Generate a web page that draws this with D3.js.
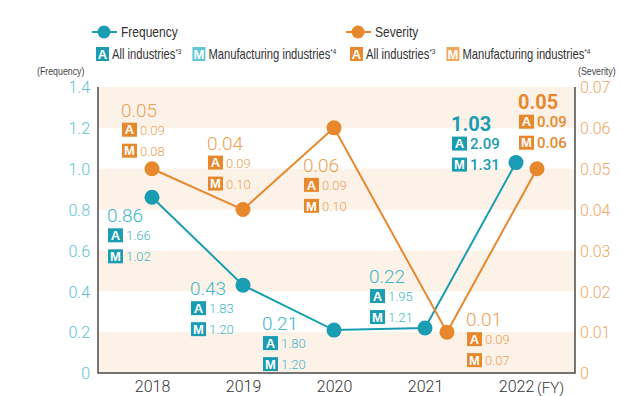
<!DOCTYPE html>
<html>
<head>
<meta charset="utf-8">
<script src="https://cdn.jsdelivr.net/npm/d3@7"></script>
<style>
  html, body { margin: 0; padding: 0; background: #fff; }
  svg { display: block; }
</style>
</head>
<body>
<svg id="chart" width="622" height="396"></svg>
<script>
// Fiscal years on the x axis
const years = ["2018", "2019", "2020", "2021", "2022"];

// Lost-time injury frequency rate (company) and industry comparisons
const frequency = [0.86, 0.43, 0.21, 0.22, 1.03];
const frequencyAll = [1.66, 1.83, 1.80, 1.95, 2.09];
const frequencyMfg = [1.02, 1.20, 1.20, 1.21, 1.31];

// Severity rate (company) and industry comparisons
const severity = [0.05, 0.04, 0.06, 0.01, 0.05];
const severityAll = [0.09, 0.09, 0.09, 0.09, 0.09];
const severityMfg = [0.08, 0.10, 0.10, 0.07, 0.06];

// Axis tick values
const frequencyTicks = [0, 0.2, 0.4, 0.6, 0.8, 1.0, 1.2, 1.4];
const severityTicks = [0, 0.01, 0.02, 0.03, 0.04, 0.05, 0.06, 0.07];

// ---- layout & style ----
const W = 622, H = 396;
const plot = { left: 98, right: 575, top: 87, bottom: 373 };
const TEAL = "#1a9db2", TEAL_LIGHT = "#42b6c9", TEAL_TICK = "#5ec3d3", TEAL_PALE = "#62c6d6";
const ORANGE = "#e8882d", ORANGE_LIGHT = "#eb9f56", ORANGE_TICK = "#eea864", ORANGE_PALE = "#f0a85e";
const BAND = "#fdf2e8";
const SANS = "'Liberation Sans', Arial, sans-serif";
const NUM = "Roboto, 'Liberation Sans', sans-serif";
const CONDENSE = 0.8; // horizontal squeeze for the condensed legend / title type

// severity markers of the last two years are nudged right so they don't sit on the frequency markers
const severityNudge = [0, 0, 0, 22, 21];
// value-label anchors relative to each marker
const freqLabelOffset = [[-44, 25], [-52, 10], [-71, 0], [-55, -45], [-64, -32]];
const sevLabelOffset = [[-30, -52], [-35, -60], [-30, 44], [20, -6], [-18, -60]];

const svg = d3.select("#chart");

// condensed text helper: draws text squeezed horizontally, returns the selection
function narrowText(parent, x0, y0, size, fill) {
  return parent.append("text")
    .attr("transform", `translate(${x0},${y0}) scale(${CONDENSE},1)`)
    .attr("font-family", SANS).attr("font-size", size).attr("fill", fill);
}

const x = d3.scalePoint().domain(years).range([plot.left + 54, plot.right - 59]);
const yF = d3.scaleLinear().domain([0, 1.4]).range([plot.bottom, plot.top]);
const yS = d3.scaleLinear().domain([0, 0.07]).range([plot.bottom, plot.top]);

// alternating background bands
const bands = frequencyTicks.slice(0, -1).filter((d, i) => i % 2 === 0);
svg.append("g").selectAll("rect").data(bands).join("rect")
  .attr("x", plot.left).attr("width", plot.right - plot.left)
  .attr("y", d => yF(d + 0.2)).attr("height", d => yF(d) - yF(d + 0.2))
  .attr("fill", BAND);

// left axis (frequency)
const gL = svg.append("g").attr("transform", `translate(${plot.left},0)`)
  .call(d3.axisLeft(yF).tickValues(frequencyTicks).tickSize(0).tickPadding(8)
    .tickFormat(d => d === 0 ? "0" : d3.format(".1f")(d)));
gL.select(".domain").remove();
gL.selectAll("text").attr("fill", TEAL_TICK).attr("font-family", NUM)
  .attr("font-weight", 300).attr("font-size", 16).attr("dy", "0.36em");

// right axis (severity)
const gR = svg.append("g").attr("transform", `translate(${plot.right},0)`)
  .call(d3.axisRight(yS).tickValues(severityTicks).tickSize(0).tickPadding(5)
    .tickFormat(d => d === 0 ? "0" : d3.format(".2f")(d)));
gR.select(".domain").remove();
gR.selectAll("text").attr("fill", ORANGE_TICK).attr("font-family", NUM)
  .attr("font-weight", 300).attr("font-size", 16).attr("dy", "0.36em");

// bottom axis (years)
const gB = svg.append("g").attr("transform", `translate(0,${plot.bottom})`)
  .call(d3.axisBottom(x).tickSize(0).tickPadding(7));
gB.select(".domain").remove();
gB.selectAll("text").attr("fill", "#333").attr("font-family", NUM)
  .attr("font-weight", 300).attr("font-size", 16).attr("dy", "0.78em");
svg.append("text")
  .attr("x", x(years[years.length - 1]) + 21).attr("y", plot.bottom + 20)
  .attr("fill", "#333").attr("font-family", NUM).attr("font-weight", 300)
  .attr("font-size", 15).text("(FY)");

// frame lines
svg.append("path")
  .attr("d", `M${plot.left},${plot.top}V${plot.bottom}H${plot.right}V${plot.top}`)
  .attr("stroke", "#4a4a4a").attr("stroke-width", 1.5).attr("fill", "none");

// axis titles
narrowText(svg, 37, 75, 11, "#444").text("(Frequency)");
narrowText(svg, 578, 75, 11, "#444").text("(Severity)");

// series
const sx = i => x(years[i]) + severityNudge[i];
const fx = i => x(years[i]);

svg.append("path").datum(frequency)
  .attr("fill", "none").attr("stroke", TEAL).attr("stroke-width", 2)
  .attr("d", d3.line().x((d, i) => fx(i)).y(d => yF(d)));
svg.append("path").datum(severity)
  .attr("fill", "none").attr("stroke", ORANGE).attr("stroke-width", 2)
  .attr("d", d3.line().x((d, i) => sx(i)).y(d => yS(d)));

svg.append("g").selectAll("circle").data(frequency).join("circle")
  .attr("cx", (d, i) => fx(i)).attr("cy", d => yF(d)).attr("r", 7.5).attr("fill", TEAL);
svg.append("g").selectAll("circle").data(severity).join("circle")
  .attr("cx", (d, i) => sx(i)).attr("cy", d => yS(d)).attr("r", 7.5).attr("fill", ORANGE);

// value labels with industry badges
function badge(g, letter, color, bx, by, w, h, fs) {
  g.append("rect").attr("x", bx).attr("y", by).attr("width", w).attr("height", h).attr("fill", color);
  g.append("text").attr("x", bx + w / 2).attr("y", by + h / 2).attr("dy", "0.36em")
    .attr("text-anchor", "middle").attr("fill", "#fff")
    .attr("font-family", SANS).attr("font-weight", 700)
    .attr("font-size", fs).text(letter);
}

function valueLabels(values, allV, mfgV, px, py, offsets, fmt, strong, soft) {
  const last = values.length - 1;
  values.forEach((v, i) => {
    const bold = i === last;
    const col = bold ? strong : soft;
    const g = svg.append("g")
      .attr("transform", `translate(${px(i) + offsets[i][0]},${py(v) + offsets[i][1]})`);
    g.append("text").attr("x", -1).attr("y", 0).attr("fill", col)
      .attr("font-family", NUM).attr("font-weight", bold ? 700 : 300)
      .attr("font-size", bold ? 20 : 19).text(fmt(v));
    [["A", allV[i], 6], ["M", mfgV[i], 27]].forEach(([letter, val, top]) => {
      badge(g, letter, strong, 0, top, 15, 14, 13);
      g.append("text").attr("x", 18).attr("y", top + 12).attr("fill", col)
        .attr("font-family", NUM).attr("font-weight", bold ? 500 : 300)
        .attr("font-size", bold ? 15 : 13).text(d3.format(".2f")(val));
    });
  });
}

valueLabels(frequency, frequencyAll, frequencyMfg, fx, yF, freqLabelOffset,
  d3.format(".2f"), TEAL, TEAL_LIGHT);
valueLabels(severity, severityAll, severityMfg, sx, yS, sevLabelOffset,
  d3.format(".2f"), ORANGE, ORANGE_LIGHT);

// legend
function legendRow1(x0, color, label) {
  const g = svg.append("g");
  g.append("line").attr("x1", x0).attr("x2", x0 + 25).attr("y1", 32).attr("y2", 32)
    .attr("stroke", color).attr("stroke-width", 2);
  g.append("circle").attr("cx", x0 + 12).attr("cy", 32).attr("r", 6.5).attr("fill", color);
  narrowText(g, x0 + 29, 37, 15, "#333").text(label);
}
legendRow1(92, TEAL, "Frequency");
legendRow1(346, ORANGE, "Severity");

function legendRow2(x0, color, pale) {
  let cx = x0;
  const items = [["A", color, "All industries", "*3"], ["M", pale, "Manufacturing industries", "*4"]];
  items.forEach(([letter, c, label, note]) => {
    badge(svg, letter, c, cx, 47, 13, 14, 13);
    const t = narrowText(svg, cx + 16, 59, 14, "#333");
    t.append("tspan").text(label);
    t.append("tspan").attr("font-size", 8).attr("dy", -5).text(note);
    cx += 16 + t.node().getComputedTextLength() * CONDENSE + 11;
  });
}
legendRow2(96, TEAL, TEAL_PALE);
legendRow2(350, ORANGE, ORANGE_PALE);
</script>
</body>
</html>
